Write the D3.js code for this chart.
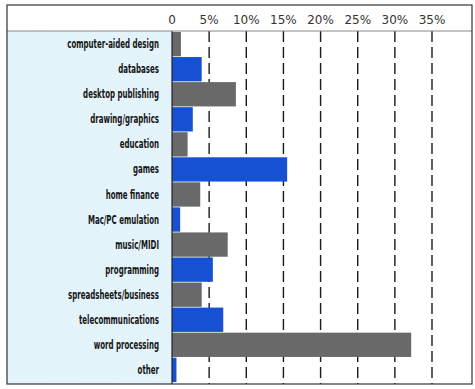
<!DOCTYPE html>
<html>
<head>
<meta charset="utf-8">
<script src="https://cdn.jsdelivr.net/npm/d3@7"></script>
<style>
  body { margin: 0; background: #fff; }
  svg { display: block; }
</style>
</head>
<body>
<script>
const categories = [
  "computer-aided design", "databases", "desktop publishing", "drawing/graphics",
  "education", "games", "home finance", "Mac/PC emulation", "music/MIDI",
  "programming", "spreadsheets/business", "telecommunications",
  "word processing", "other"
];
const values = [1.2, 4.0, 8.6, 2.8, 2.1, 15.5, 3.8, 1.1, 7.5, 5.5, 4.0, 6.9, 32.2, 0.6];
const ticks = [0, 5, 10, 15, 20, 25, 30, 35];
const tickLabels = ["0", "5%", "10%", "15%", "20%", "25%", "30%", "35%"];

const W = 475, H = 389;
const frame = { left: 7, top: 5, right: 472, bottom: 384 };
const headerY = 31;
const zeroX = 172;

const svg = d3.select("body").append("svg")
  .attr("width", W).attr("height", H);

// hatch pattern for the label panel
const defs = svg.append("defs");
const pat = defs.append("pattern")
  .attr("id", "hatch")
  .attr("patternUnits", "userSpaceOnUse")
  .attr("width", 3).attr("height", 3)
  .attr("patternTransform", "rotate(45)");
pat.append("rect").attr("width", 3).attr("height", 3).attr("fill", "#e6f5fb");
pat.append("line").attr("x1", 0).attr("y1", 0).attr("x2", 0).attr("y2", 3)
  .attr("stroke", "#d6ebf3").attr("stroke-width", 0.8);

// label panel
svg.append("rect")
  .attr("x", frame.left).attr("y", headerY)
  .attr("width", zeroX - frame.left).attr("height", frame.bottom - headerY)
  .attr("fill", "url(#hatch)");

const x = d3.scaleLinear()
  .domain([0, 35])
  .range([zeroX, 432]);

const y = d3.scaleBand()
  .domain(categories)
  .range([32, 382])
  .paddingInner(0.03);

// dashed grid lines
svg.append("g")
  .selectAll("line")
  .data(ticks.slice(1))
  .join("line")
  .attr("x1", d => x(d)).attr("x2", d => x(d))
  .attr("y1", headerY).attr("y2", frame.bottom)
  .attr("stroke", "#1a1a1a")
  .attr("stroke-width", 1.4)
  .attr("stroke-dasharray", "11,5");

// bars
svg.append("g")
  .selectAll("rect")
  .data(values)
  .join("rect")
  .attr("x", x(0))
  .attr("y", (d, i) => y(categories[i]))
  .attr("width", d => x(d) - x(0))
  .attr("height", y.bandwidth())
  .attr("fill", (d, i) => i % 2 ? "#1551d2" : "#696969");

// category labels (condensed)
svg.append("g")
  .selectAll("text")
  .data(categories)
  .join("text")
  .attr("transform", d => `translate(159,${y(d) + y.bandwidth() / 2}) scale(0.68,1)`)
  .attr("dy", "0.35em")
  .attr("text-anchor", "end")
  .attr("font-family", "'DejaVu Sans Condensed', 'DejaVu Sans', sans-serif")
  .attr("font-weight", "bold")
  .attr("font-size", 11.5)
  .attr("fill", "#151515")
  .text(d => d);

// top axis labels
svg.append("g")
  .selectAll("text")
  .data(ticks)
  .join("text")
  .attr("x", d => x(d))
  .attr("y", 24)
  .attr("text-anchor", "middle")
  .attr("font-family", "'DejaVu Sans', sans-serif")
  .attr("font-size", 12)
  .attr("fill", "#333")
  .text((d, i) => tickLabels[i]);

// frame lines
svg.append("line")
  .attr("x1", zeroX).attr("x2", zeroX)
  .attr("y1", headerY).attr("y2", frame.bottom)
  .attr("stroke", "#222").attr("stroke-width", 1.2);
svg.append("line")
  .attr("x1", frame.left).attr("x2", frame.right)
  .attr("y1", headerY).attr("y2", headerY)
  .attr("stroke", "#888").attr("stroke-width", 1);
svg.append("rect")
  .attr("x", frame.left).attr("y", frame.top)
  .attr("width", frame.right - frame.left).attr("height", frame.bottom - frame.top)
  .attr("fill", "none")
  .attr("stroke", "#333").attr("stroke-width", 1.2);
</script>
</body>
</html>
